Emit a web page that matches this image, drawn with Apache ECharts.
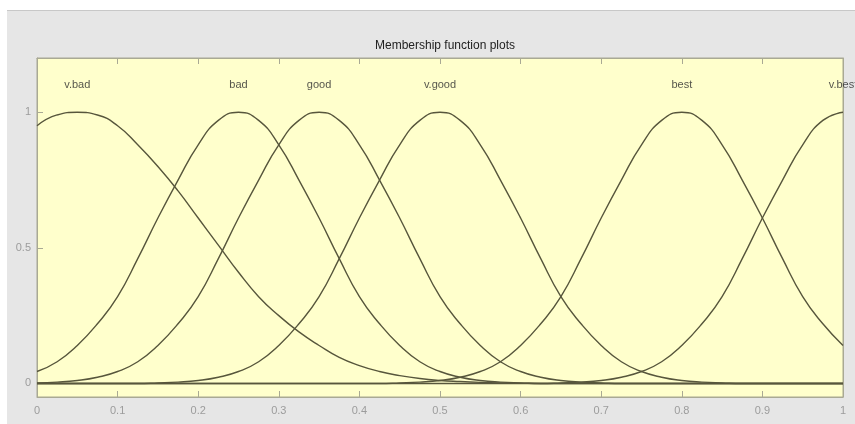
<!DOCTYPE html>
<html>
<head>
<meta charset="utf-8">
<script src="https://cdn.jsdelivr.net/npm/echarts@6/dist/echarts.min.js"></script>
<style>
html, body { margin: 0; padding: 0; background: #e6e6e6; }
#idChart { width: 855px; height: 424px; }
</style>
</head>
<body>
<div id="idChart"></div>
<script>
// x positions where the curves were read (0 .. 1, step 0.025)
var xs = [0, 0.025, 0.05, 0.075, 0.1, 0.125, 0.15, 0.175, 0.2, 0.225,
  0.25, 0.275, 0.3, 0.325, 0.35, 0.375, 0.4, 0.425, 0.45, 0.475,
  0.5, 0.525, 0.55, 0.575, 0.6, 0.625, 0.65, 0.675, 0.7, 0.725,
  0.75, 0.775, 0.8, 0.825, 0.85, 0.875, 0.9, 0.925, 0.95, 0.975, 1];

var vbad = [0.95, 0.99, 1, 0.99, 0.95, 0.88, 0.80, 0.71, 0.61, 0.51,
  0.41, 0.32, 0.25, 0.19, 0.14, 0.096, 0.066, 0.044, 0.029, 0.018,
  0.011, 0.007, 0.004, 0.002, 0.001, 0, 0, 0, 0, 0,
  0, 0, 0, 0, 0, 0, 0, 0, 0, 0, 0];
var bad = [0.044, 0.08, 0.14, 0.22, 0.32, 0.46, 0.61, 0.75, 0.88, 0.97,
  1, 0.97, 0.88, 0.75, 0.61, 0.46, 0.32, 0.22, 0.14, 0.08,
  0.044, 0.023, 0.011, 0.005, 0.002, 0, 0, 0, 0, 0,
  0, 0, 0, 0, 0, 0, 0, 0, 0, 0, 0];
var good = [0.002, 0.005, 0.011, 0.023, 0.044, 0.08, 0.14, 0.22, 0.32, 0.46,
  0.61, 0.75, 0.88, 0.97, 1, 0.97, 0.88, 0.75, 0.61, 0.46,
  0.32, 0.22, 0.14, 0.08, 0.044, 0.023, 0.011, 0.005, 0.002, 0,
  0, 0, 0, 0, 0, 0, 0, 0, 0, 0, 0];
var vgood = [0, 0, 0, 0, 0, 0, 0.002, 0.005, 0.011, 0.023,
  0.044, 0.08, 0.14, 0.22, 0.32, 0.46, 0.61, 0.75, 0.88, 0.97,
  1, 0.97, 0.88, 0.75, 0.61, 0.46, 0.32, 0.22, 0.14, 0.08,
  0.044, 0.023, 0.011, 0.005, 0.002, 0, 0, 0, 0, 0, 0];
var best = [0, 0, 0, 0, 0, 0, 0, 0, 0, 0,
  0, 0, 0, 0, 0, 0, 0, 0, 0.002, 0.005,
  0.011, 0.023, 0.044, 0.08, 0.14, 0.22, 0.32, 0.46, 0.61, 0.75,
  0.88, 0.97, 1, 0.97, 0.88, 0.75, 0.61, 0.46, 0.32, 0.22, 0.14];
var vbest = [0, 0, 0, 0, 0, 0, 0, 0, 0, 0,
  0, 0, 0, 0, 0, 0, 0, 0, 0, 0,
  0, 0, 0, 0, 0, 0, 0.002, 0.005, 0.011, 0.023,
  0.044, 0.08, 0.14, 0.22, 0.32, 0.46, 0.61, 0.75, 0.88, 0.97, 1];

var mfNames = ['v.bad', 'bad', 'good', 'v.good', 'best', 'v.best'];
var mfCenters = [0.05, 0.25, 0.35, 0.5, 0.8, 1];
var mfValues = [vbad, bad, good, vgood, best, vbest];

var xTicks = [0, 0.1, 0.2, 0.3, 0.4, 0.5, 0.6, 0.7, 0.8, 0.9, 1];
var yTicks = [0, 0.5, 1];

var lineColor = '#57563c';
var frameColor = '#a9a994';
var tickText = '#9c9c9c';
var font = "'Liberation Sans Narrow', 'Liberation Sans', sans-serif";

var series = [];
mfValues.forEach(function (vals, i) {
  series.push({
    name: mfNames[i],
    type: 'line',
    smooth: true,
    symbol: 'none',
    silent: true,
    clip: true,
    lineStyle: { color: lineColor, width: 1.4 },
    data: xs.map(function (x, j) { return [x, vals[j]]; })
  });
});

// name labels above each peak
series.push({
  type: 'scatter',
  symbolSize: 0,
  silent: true,
  clip: false,
  label: {
    show: true,
    position: 'inside',
    formatter: function (p) { return p.name; },
    color: '#2b2b2b',
    fontSize: 11,
    fontFamily: font
  },
  data: mfNames.map(function (n, i) { return { name: n, value: [mfCenters[i], 1.1] }; })
});

var myChart = echarts.init(document.getElementById('idChart'));

var Options = {
  backgroundColor: '#e6e6e6',
  animation: false,
  title: {
    text: 'Membership function plots',
    left: 440,
    textAlign: 'center',
    top: 35,
    textStyle: { fontSize: 12, fontWeight: 'normal', color: '#222', fontFamily: font }
  },
  graphic: [
    { type: 'rect', shape: { x: 0, y: 0, width: 855, height: 10 }, style: { fill: '#ffffff' }, z: -1 },
    { type: 'rect', shape: { x: 0, y: 0, width: 7, height: 424 }, style: { fill: '#ffffff' }, z: -1 },
    { type: 'line', shape: { x1: 7, y1: 10.5, x2: 855, y2: 10.5 }, style: { stroke: '#c8c8c8', lineWidth: 1 }, z: -1 }
  ],
  grid: {
    left: 37,
    right: 12,
    top: 58,
    bottom: 27,
    show: true,
    backgroundColor: '#ffffcc',
    borderColor: frameColor,
    borderWidth: 1
  },
  xAxis: [{
    type: 'value',
    min: 0,
    max: 1,
    interval: 0.1,
    position: 'bottom',
    axisLine: { show: true, onZero: false, lineStyle: { color: frameColor } },
    axisTick: { show: true, inside: true, length: 6, lineStyle: { color: frameColor } },
    axisLabel: {
      color: tickText, fontSize: 11, fontFamily: font, margin: 8,
      customValues: xTicks
    },
    splitLine: { show: false }
  }, {
    type: 'value',
    min: 0,
    max: 1,
    interval: 0.1,
    position: 'top',
    axisLine: { show: true, onZero: false, lineStyle: { color: frameColor } },
    axisTick: { show: true, inside: true, length: 6, lineStyle: { color: frameColor } },
    axisLabel: { show: false },
    splitLine: { show: false }
  }],
  yAxis: [{
    type: 'value',
    min: -0.05,
    max: 1.2,
    axisLine: { show: true, onZero: false, lineStyle: { color: frameColor } },
    axisTick: { show: true, inside: true, length: 6, customValues: yTicks, lineStyle: { color: frameColor } },
    axisLabel: { color: tickText, fontSize: 11, fontFamily: font, margin: 6, customValues: yTicks },
    splitLine: { show: false }
  }, {
    type: 'value',
    min: -0.05,
    max: 1.2,
    position: 'right',
    axisLine: { show: true, onZero: false, lineStyle: { color: frameColor } },
    axisTick: { show: false },
    axisLabel: { show: false },
    splitLine: { show: false }
  }],
  series: series
};

myChart.setOption(Options);
</script>
</body>
</html>
